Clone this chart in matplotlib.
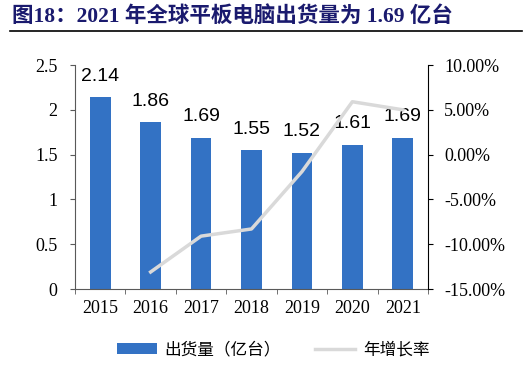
import matplotlib
matplotlib.use("Agg")
import matplotlib.pyplot as plt
from matplotlib.lines import Line2D
from matplotlib.patches import Patch
import numpy as np

years = ["2015", "2016", "2017", "2018", "2019", "2020", "2021"]
shipments = [2.14, 1.86, 1.69, 1.55, 1.52, 1.61, 1.69]
growth = [None, -13.1, -9.1, -8.3, -1.9, 5.9, 5.0]
left_ticks = [0, 0.5, 1, 1.5, 2, 2.5]
right_ticks = [-15, -10, -5, 0, 5, 10]

title = "图18：2021 年全球平板电脑出货量为 1.69 亿台"
bar_label = "出货量（亿台）"
line_label = "年增长率"

serif = ["Liberation Serif", "Noto Sans CJK SC"]
cjk = ["Noto Sans CJK SC", "DejaVu Sans"]

fig = plt.figure(figsize=(5.27, 3.8), dpi=100)
ax = fig.add_axes([75 / 527, 1 - 289 / 380, 353 / 527, 224 / 380])
ax2 = ax.twinx()

x = np.arange(len(years))
ax.bar(x, shipments, width=0.41, color="#3372C4", zorder=2)
for xi, v in zip(x, shipments):
    ax.annotate(f"{v:.2f}", (xi, v), xytext=(0, 9), textcoords="offset points",
                ha="center", va="bottom", fontsize=14, family="Liberation Sans", color="black")

gx = [xi for xi, g in zip(x, growth) if g is not None]
gy = [g for g in growth if g is not None]
ax2.plot(gx, gy, color="#D9D9D9", lw=2.5, zorder=3)

ax.set_xlim(-0.5, len(years) - 0.5)
ax.set_ylim(0, 2.5)
ax2.set_ylim(-15, 10)

ax.set_yticks(left_ticks)
ax.set_yticklabels([f"{t:g}" for t in left_ticks], family="Liberation Serif", fontsize=13)
ax2.set_yticks(right_ticks)
ax2.set_yticklabels([f"{t:.2f}%" for t in right_ticks], family="Liberation Serif", fontsize=13)

ax.set_xticks(x)
ax.set_xticklabels(years, family="Liberation Serif", fontsize=13)
ax.tick_params(axis="x", which="major", length=0, pad=8)
ax.set_xticks(np.arange(-0.5, len(years), 1), minor=True)
ax.tick_params(axis="x", which="minor", length=3.5, direction="out", color="#595959")
ax.tick_params(axis="y", length=3.5, direction="out", color="#595959", pad=9)
ax2.tick_params(axis="y", length=3.5, direction="out", color="black", pad=8)

for a in (ax, ax2):
    a.spines["top"].set_visible(False)
ax.spines["right"].set_visible(False)
ax.spines["left"].set_color("#595959")
ax.spines["bottom"].set_color("#595959")
ax2.spines["left"].set_visible(False)
ax2.spines["bottom"].set_visible(False)
ax2.spines["right"].set_color("black")

handles = [Patch(facecolor="#3372C4", edgecolor="none"),
           Line2D([0], [0], color="#D9D9D9", lw=2.5)]
fig.legend(handles, [bar_label, line_label], loc="center", bbox_to_anchor=(273 / 527, 1 - 350 / 380),
           ncol=2, frameon=False, prop={"family": cjk, "size": 12},
           handlelength=2.4, handleheight=0.6, columnspacing=2.1, handletextpad=0.45)

fig.text(12 / 527, 1 - 16 / 380, title, ha="left", va="center", fontsize=15.5,
         fontweight="bold", color="#1A1A6E", family=serif)
fig.add_artist(Line2D([10 / 527, 522 / 527], [1 - 31 / 380, 1 - 31 / 380],
                      color="black", lw=1.2, transform=fig.transFigure))

fig.savefig("out.png", dpi=100)
